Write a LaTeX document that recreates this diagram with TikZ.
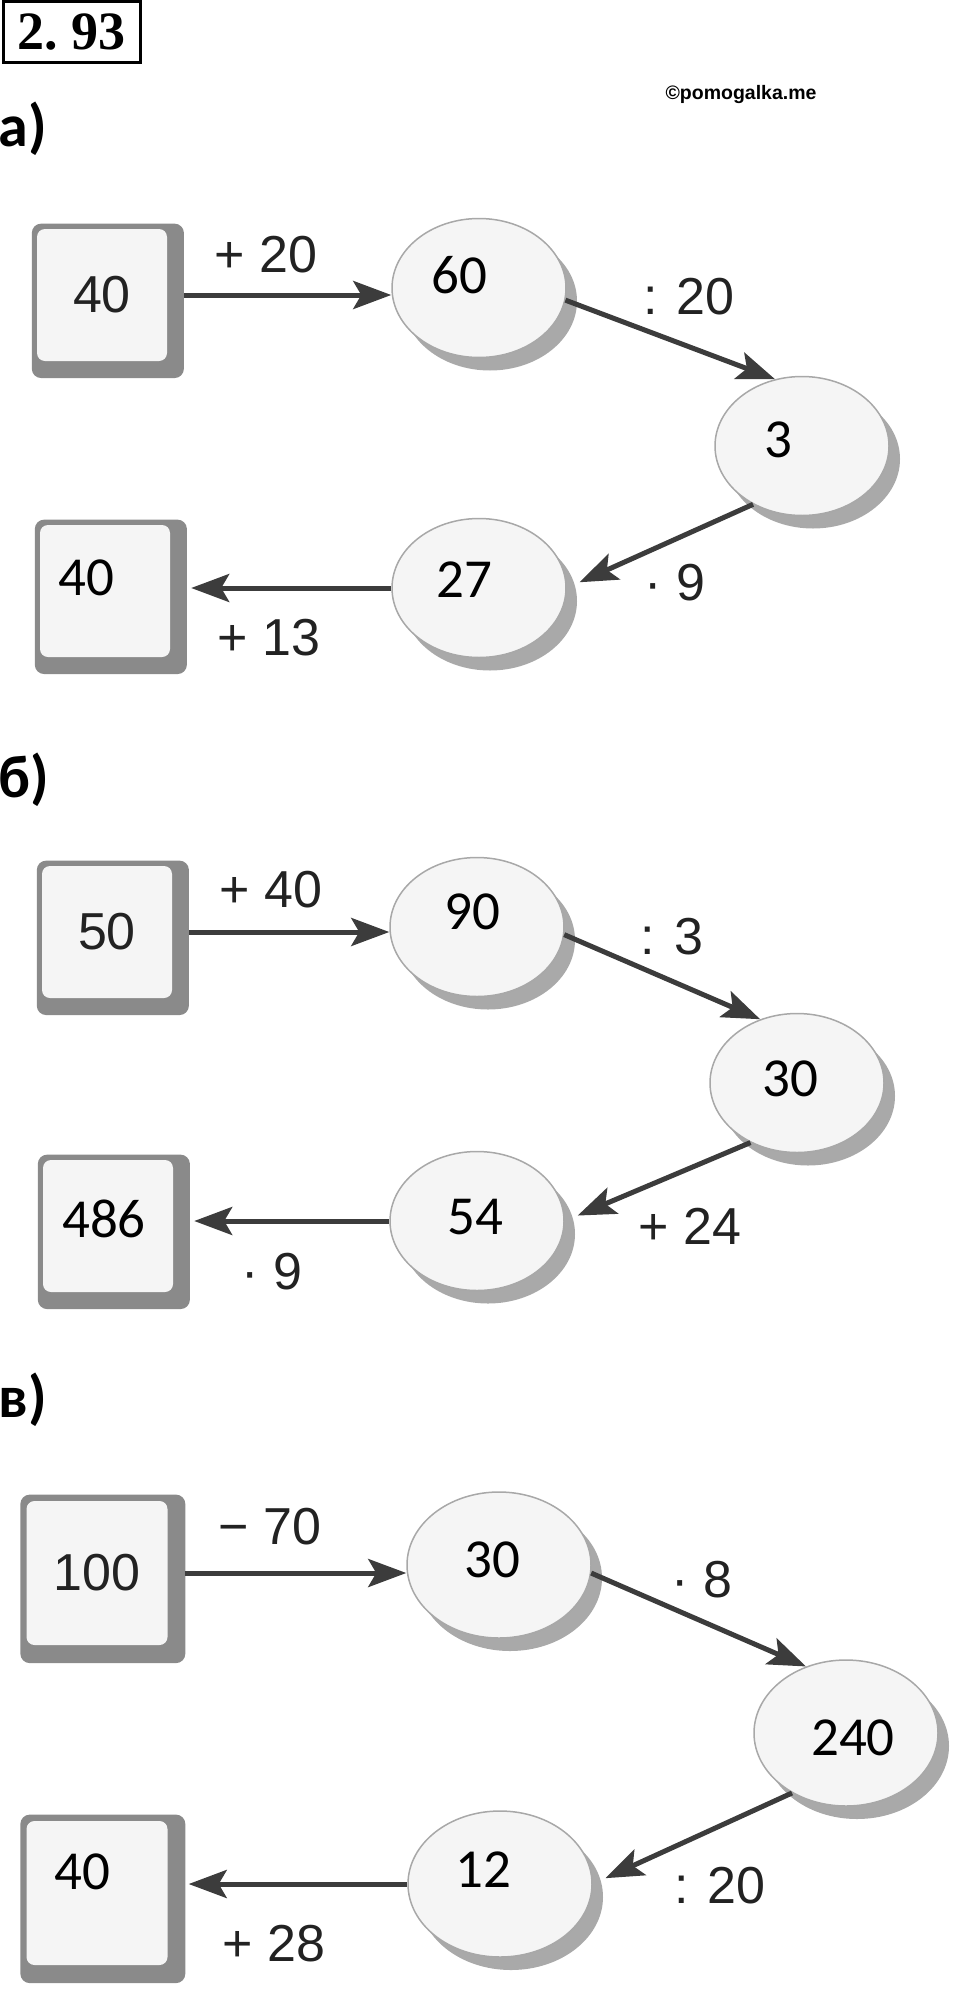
\documentclass[tikz,border=0pt]{standalone}
\usepackage{fontspec}
\usepackage{xcolor}
\usepackage{tikz}
\usetikzlibrary{positioning,shapes.geometric,shadows,arrows.meta}

\newfontfamily\printsans{Liberation Sans}
\newfontfamily\handsans{Carlito}
\newfontfamily\headserif{Liberation Serif}

\definecolor{face}{HTML}{F5F5F5}
\definecolor{boxshade}{HTML}{8A8A8A}
\definecolor{ovalline}{HTML}{A8A8A8}
\definecolor{ovalshade}{HTML}{A9A9A9}
\definecolor{arrowgray}{HTML}{3C3C3C}
\definecolor{printink}{HTML}{222222}

\tikzset{
  numbox/.style={fill=face, rounded corners=8pt,
    minimum width=130pt, minimum height=132pt, inner sep=0pt,
    general shadow={shadow scale=1.17, shadow xshift=5pt, shadow yshift=-5pt, fill=boxshade},
    text=printink, font=\printsans\fontsize{52}{60}\selectfont},
  bigbox/.style={numbox, minimum width=141pt, minimum height=144pt},
  oval/.style={ellipse, draw=ovalline, line width=1.5pt, fill=face,
    minimum width=174pt, minimum height=139pt, inner sep=0pt,
    general shadow={shadow xshift=11pt, shadow yshift=-13pt, fill=ovalshade}},
  bigoval/.style={oval, minimum width=184pt, minimum height=146pt},
  op/.style={text=printink, font=\printsans\fontsize{52}{60}\selectfont},
  ans/.style={font=\handsans\fontsize{55}{60}\selectfont},
  tag/.style={font=\handsans\bfseries\fontsize{60}{66}\selectfont},
  flow/.style={-{Stealth[length=38pt,width=28pt,inset=8pt]}, line width=5pt, draw=arrowgray},
}

\begin{document}
\begin{tikzpicture}[x=1pt,y=-1pt]
  \useasboundingbox (0,0) rectangle (960,2015);

  % heading
  \node[draw, line width=3pt, minimum width=137pt, minimum height=61pt, inner sep=0pt,
    font=\headserif\bfseries\fontsize{54}{60}\selectfont] (task) at (71.5,32.5) {2.\ 93};
  \node[font=\printsans\bfseries\fontsize{19.5}{22}\selectfont] (mark) at (741,95) {©pomogalka.me};

  % a)
  \node[tag] (la) at (23,129) {а)};
  \node[numbox] (a1) at (102,295) {40};
  \node[oval] (a2) at (479,288) {};
  \node[oval] (a3) at (802,446) {};
  \node[oval] (a4) at (479,588) {};
  \node[numbox] (a5) at (105,591) {};
  \node[ans] (a2n) at (459,275) {60};
  \node[ans] (a3n) at (778,440) {3};
  \node[ans] (a4n) at (464,580) {27};
  \node[ans] (a5n) at (86,578) {40};
  \draw[flow, shorten <=17pt] (a1) -- (a1 -| a2.west);
  \draw[flow] (a2.-8) -- (a3.112);
  \draw[flow, shorten >=14pt] (a3.230) -- (a4.east);
  \draw[flow, shorten >=21pt] (a4.west) -- (a4.west -| a5.east);
  \node[op] (a12) at (266,255) {+ 20};
  \node[op] (a23) at (689,297) {: 20};
  \node[op] (a34) at (675,583) {· 9};
  \node[op] (a45) at (269,638) {+ 13};

  % b)
  \node[tag] (lb) at (24,780) {б)};
  \node[numbox] (b1) at (107,932) {50};
  \node[oval] (b2) at (477,927) {};
  \node[oval] (b3) at (797,1083) {};
  \node[oval] (b4) at (477,1221) {};
  \node[numbox] (b5) at (108,1226) {};
  \node[ans] (b2n) at (472,912) {90};
  \node[ans] (b3n) at (790,1079) {30};
  \node[ans] (b4n) at (475,1217) {54};
  \node[ans] (b5n) at (104,1219) {486};
  \draw[flow, shorten <=17pt] (b1) -- (b1 -| b2.west);
  \draw[flow] (b2.-5) -- (b3.120);
  \draw[flow, shorten >=14pt] (b3.232) -- (b4.east);
  \draw[flow, shorten >=21pt] (b4.west) -- (b4.west -| b5.east);
  \node[op] (b12) at (271,890) {+ 40};
  \node[op] (b23) at (672,937) {: 3};
  \node[op] (b34) at (690,1226) {+ 24};
  \node[op] (b45) at (272,1272) {· 9};

  % v)
  \node[tag] (lc) at (23,1400) {в)};
  \node[bigbox] (c1) at (97,1573) {100};
  \node[bigoval] (c2) at (499,1565) {};
  \node[bigoval] (c3) at (846,1733) {};
  \node[bigoval] (c4) at (500,1884) {};
  \node[bigbox] (c5) at (97,1893) {};
  \node[ans] (c2n) at (492,1560) {30};
  \node[ans] (c3n) at (853,1738) {240};
  \node[ans] (c4n) at (483,1870) {12};
  \node[ans] (c5n) at (82,1872) {40};
  \draw[flow, shorten <=17pt] (c1) -- (c1 -| c2.west);
  \draw[flow] (c2.-5) -- (c3.121);
  \draw[flow, shorten >=14pt] (c3.228) -- (c4.east);
  \draw[flow, shorten >=21pt] (c4.west) -- (c4.west -| c5.east);
  \node[op] (c12) at (270,1527) {− 70};
  \node[op] (c23) at (702,1580) {· 8};
  \node[op] (c34) at (720,1886) {: 20};
  \node[op] (c45) at (274,1944) {+ 28};
\end{tikzpicture}
\end{document}
